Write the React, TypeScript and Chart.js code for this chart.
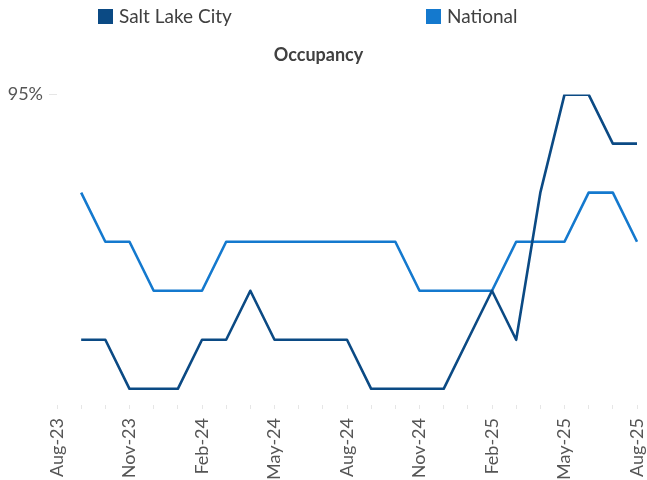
import { useEffect, useRef } from "react";
import { Chart, registerables } from "chart.js";

Chart.register(...registerables);

const months = [
  "Aug-23", "Sep-23", "Oct-23", "Nov-23", "Dec-23", "Jan-24", "Feb-24", "Mar-24", "Apr-24",
  "May-24", "Jun-24", "Jul-24", "Aug-24", "Sep-24", "Oct-24", "Nov-24", "Dec-24", "Jan-25",
  "Feb-25", "Mar-25", "Apr-25", "May-25", "Jun-25", "Jul-25", "Aug-25",
];

const saltLakeCity = [
  null, 90, 90, 89, 89, 89, 90, 90, 91, 90, 90, 90, 90, 89, 89, 89, 89, 90, 91, 90, 93, 95, 95, 94, 94,
];

const national = [
  null, 93, 92, 92, 91, 91, 91, 92, 92, 92, 92, 92, 92, 92, 92, 91, 91, 91, 91, 92, 92, 92, 93, 93, 92,
];

const yTickValues = [95];
const seriesNames = ["Salt Lake City", "National"];
const seriesColors = ["#0B4A84", "#1479CE"];

const FONT = "Lato, 'Open Sans', sans-serif";
const LEGEND_BOX_X = [98, 426];

const customLegend = {
  id: "customLegend",
  afterDraw(chart: any) {
    const ctx = chart.ctx;
    ctx.save();
    chart.data.datasets.forEach((ds: any, i: number) => {
      const x = LEGEND_BOX_X[i];
      ctx.fillStyle = ds.borderColor;
      ctx.fillRect(x, 9, 15, 15);
      ctx.fillStyle = "#404040";
      ctx.font = `19px ${FONT}`;
      ctx.textBaseline = "middle";
      ctx.textAlign = "left";
      ctx.fillText(ds.label, x + 21, 17);
    });
    ctx.restore();
  },
};

export default function App() {
  const ref = useRef<HTMLCanvasElement | null>(null);

  useEffect(() => {
    document.body.style.margin = "0";
    const canvas = ref.current;
    if (!canvas) return;
    const chart = new Chart(canvas, {
      type: "line",
      data: {
        labels: months,
        datasets: [
          {
            label: seriesNames[0],
            data: saltLakeCity,
            borderColor: seriesColors[0],
            backgroundColor: seriesColors[0],
            borderWidth: 2.6,
            pointRadius: 0,
            tension: 0,
            borderJoinStyle: "round",
          },
          {
            label: seriesNames[1],
            data: national,
            borderColor: seriesColors[1],
            backgroundColor: seriesColors[1],
            borderWidth: 2.6,
            pointRadius: 0,
            tension: 0,
            borderJoinStyle: "round",
          },
        ],
      },
      plugins: [customLegend],
      options: {
        animation: false,
        responsive: false,
        devicePixelRatio: 1,
        layout: { padding: { top: 32, left: 0, right: 10, bottom: 0 } },
        plugins: {
          legend: { display: false },
          tooltip: { enabled: false },
          title: {
            display: true,
            text: "Occupancy",
            color: "#404040",
            font: { family: FONT, size: 18, weight: "bold" },
            padding: { top: 12, bottom: 29 },
          },
        },
        scales: {
          x: {
            grid: {
              display: true,
              drawOnChartArea: false,
              drawTicks: true,
              tickLength: 4,
              color: "#e6e6e6",
            },
            border: { display: false },
            ticks: {
              autoSkip: false,
              maxRotation: 90,
              minRotation: 90,
              padding: 9,
              color: "#555555",
              font: { family: FONT, size: 18 },
              callback: (_v: any, i: number) => (i % 3 === 0 ? months[i] : ""),
            },
            afterFit: (scale: any) => {
              scale.height = 75;
              scale.paddingLeft = 0;
              scale.paddingRight = 0;
            },
          },
          y: {
            min: 88.67,
            max: 95,
            grid: {
              display: true,
              drawOnChartArea: false,
              drawTicks: true,
              tickLength: 8,
              color: "#e6e6e6",
            },
            border: { display: false },
            afterBuildTicks: (scale: any) => {
              scale.ticks = yTickValues.map((v) => ({ value: v }));
            },
            ticks: {
              padding: 6,
              color: "#555555",
              font: { family: FONT, size: 18 },
              callback: (v: any) => `${v}%`,
            },
            afterFit: (scale: any) => {
              scale.width = 57;
            },
          },
        },
      },
    });
    return () => chart.destroy();
  }, []);

  return (
    <div style={{ width: 647, height: 480 }}>
      <canvas ref={ref} width={647} height={480} style={{ display: "block" }} />
    </div>
  );
}
